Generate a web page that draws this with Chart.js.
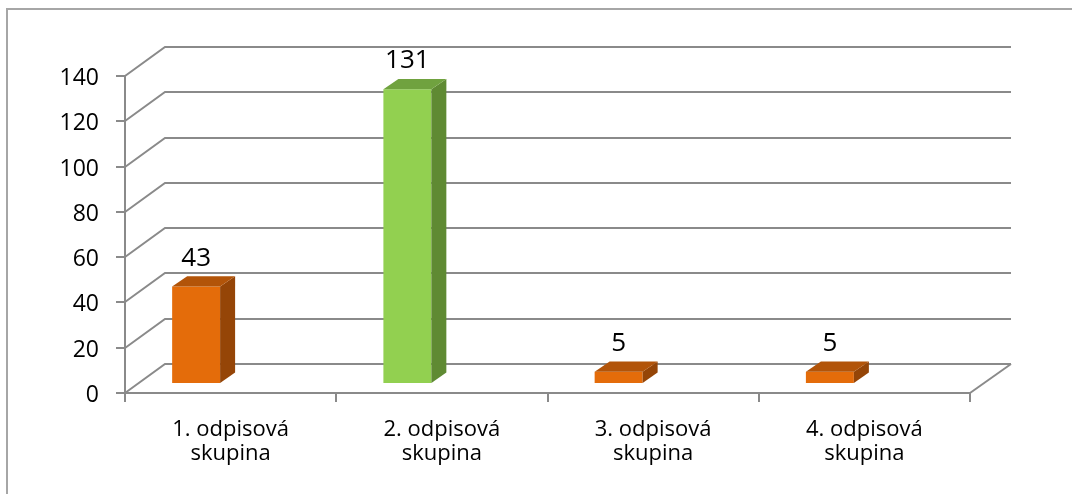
<!DOCTYPE html>
<html>
<head>
<meta charset="utf-8">
<script src="https://cdn.jsdelivr.net/npm/chart.js@4.4.1/dist/chart.umd.min.js"></script>
<style>
    html, body { margin: 0; padding: 0; background: #ffffff; }
    #chartBox { width: 1072px; height: 494px; }
</style>
</head>
<body>
<div id="chartBox"><canvas id="groupsChart" width="1072" height="494"></canvas></div>
<script>
//---------------------------------
//Data
const categories = [
    ['1. odpisová', 'skupina'],
    ['2. odpisová', 'skupina'],
    ['3. odpisová', 'skupina'],
    ['4. odpisová', 'skupina']
];
const values = [43, 131, 5, 5];
const frontColors = ['#e46c0a', '#92d050', '#e46c0a', '#e46c0a'];
const topColors = ['#b25409', '#70a23f', '#b25409', '#b25409'];
const sideColors = ['#954507', '#5f8a33', '#954507', '#954507'];
const yTicks = [0, 20, 40, 60, 80, 100, 120, 140];
//---------------------------------

const gridColor = '#8a8a8a';
const fontFamily = '"Open Sans", "Noto Sans", sans-serif';

// depth of the wall (front axis -> back grid)
const wallDx = 41, wallDy = -29;
// bars stand a bit inside the box
const barShiftX = -34.5, barShiftY = -10, barScaleY = 0.99;
// depth of each column
const colDx = 15, colDy = -10.5;

// frame, floor, walls and axis texts
const boxPlugin = {
    id: 'box3d',
    beforeDatasetsDraw(chart) {
        const ctx = chart.ctx;
        const area = chart.chartArea;
        const xScale = chart.scales.x;
        const yScale = chart.scales.y;

        ctx.save();

        // outer frame
        ctx.strokeStyle = '#a6a6a6';
        ctx.lineWidth = 2;
        ctx.strokeRect(7, 9, 1080, 500);

        ctx.strokeStyle = gridColor;
        ctx.lineWidth = 2;
        ctx.lineCap = 'butt';

        // back wall grid + diagonals
        yTicks.forEach((v) => {
            const y = Math.round(yScale.getPixelForValue(v));
            ctx.beginPath();
            ctx.moveTo(area.left, y);
            ctx.lineTo(area.left + wallDx - 1, y + wallDy);
            ctx.lineTo(area.right + wallDx, y + wallDy);
            ctx.stroke();

            // tick mark on front axis
            ctx.beginPath();
            ctx.moveTo(area.left - 9, y);
            ctx.lineTo(area.left, y);
            ctx.stroke();
        });

        // right floor edge
        ctx.beginPath();
        ctx.moveTo(area.right, area.bottom);
        ctx.lineTo(area.right + wallDx, area.bottom + wallDy);
        ctx.stroke();

        // front axes
        ctx.beginPath();
        ctx.moveTo(area.left, area.top);
        ctx.lineTo(area.left, area.bottom);
        ctx.lineTo(area.right, area.bottom);
        ctx.stroke();

        // category boundary ticks
        const edges = [area.left];
        for (let i = 1; i < categories.length; i++) {
            edges.push((xScale.getPixelForValue(i - 1) + xScale.getPixelForValue(i)) / 2);
        }
        edges.push(area.right);
        edges.forEach((x) => {
            x = Math.round(x);
            ctx.beginPath();
            ctx.moveTo(x, area.bottom);
            ctx.lineTo(x, area.bottom + 9);
            ctx.stroke();
        });

        // y tick labels
        ctx.fillStyle = '#000000';
        ctx.font = '23px ' + fontFamily;
        ctx.textAlign = 'right';
        ctx.textBaseline = 'alphabetic';
        yTicks.forEach((v) => {
            const y = yScale.getPixelForValue(v);
            ctx.fillText(String(v), area.left - 26, y + 9);
        });

        // category labels
        ctx.font = '22px ' + fontFamily;
        ctx.textAlign = 'center';
        categories.forEach((lines, i) => {
            const x = xScale.getPixelForValue(i);
            lines.forEach((line, j) => {
                ctx.fillText(line, x, area.bottom + 43 + j * 24);
            });
        });

        ctx.restore();

        // move the column plane inside the box
        const base = yScale.getPixelForValue(0);
        ctx.save();
        ctx.translate(barShiftX, barShiftY + base);
        ctx.scale(1, barScaleY);
        ctx.translate(0, -base);
    },
    afterDatasetsDraw(chart) {
        const ctx = chart.ctx;
        const meta = chart.getDatasetMeta(0);

        meta.data.forEach((bar, i) => {
            const p = bar.getProps(['x', 'y', 'base', 'width'], true);
            const left = p.x - p.width / 2;
            const right = p.x + p.width / 2;

            // side face
            ctx.fillStyle = sideColors[i];
            ctx.beginPath();
            ctx.moveTo(right, p.y);
            ctx.lineTo(right + colDx, p.y + colDy);
            ctx.lineTo(right + colDx, p.base + colDy);
            ctx.lineTo(right, p.base);
            ctx.closePath();
            ctx.fill();

            // top face
            ctx.fillStyle = topColors[i];
            ctx.beginPath();
            ctx.moveTo(left, p.y);
            ctx.lineTo(left + colDx, p.y + colDy);
            ctx.lineTo(right + colDx, p.y + colDy);
            ctx.lineTo(right, p.y);
            ctx.closePath();
            ctx.fill();
        });

        ctx.restore();

        // value labels
        const yScale = chart.scales.y;
        const base = yScale.getPixelForValue(0);
        ctx.save();
        ctx.fillStyle = '#000000';
        ctx.font = '26px ' + fontFamily;
        ctx.textAlign = 'center';
        ctx.textBaseline = 'alphabetic';
        meta.data.forEach((bar, i) => {
            const top = base + (yScale.getPixelForValue(values[i]) - base) * barScaleY + barShiftY;
            ctx.fillText(String(values[i]), bar.x + barShiftX, top - 21);
        });
        ctx.restore();
    }
};

const ctx = document.getElementById('groupsChart');

var groupsChart = new Chart(ctx, {
    type: 'bar',
    data: {
        labels: categories,
        datasets: [{
            data: values,
            backgroundColor: frontColors,
            borderWidth: 0,
            barPercentage: 0.227,
            categoryPercentage: 1,
            clip: false
        }]
    },
    options: {
        responsive: false,
        animation: false,
        devicePixelRatio: 1,
        layout: {
            padding: { left: 125, right: 102, top: 76, bottom: 101 }
        },
        plugins: {
            legend: { display: false },
            tooltip: { enabled: false }
        },
        scales: {
            x: { display: false },
            y: {
                display: false,
                min: 0,
                max: 140,
                ticks: { stepSize: 20 }
            }
        }
    },
    plugins: [boxPlugin]
});
</script>
</body>
</html>
